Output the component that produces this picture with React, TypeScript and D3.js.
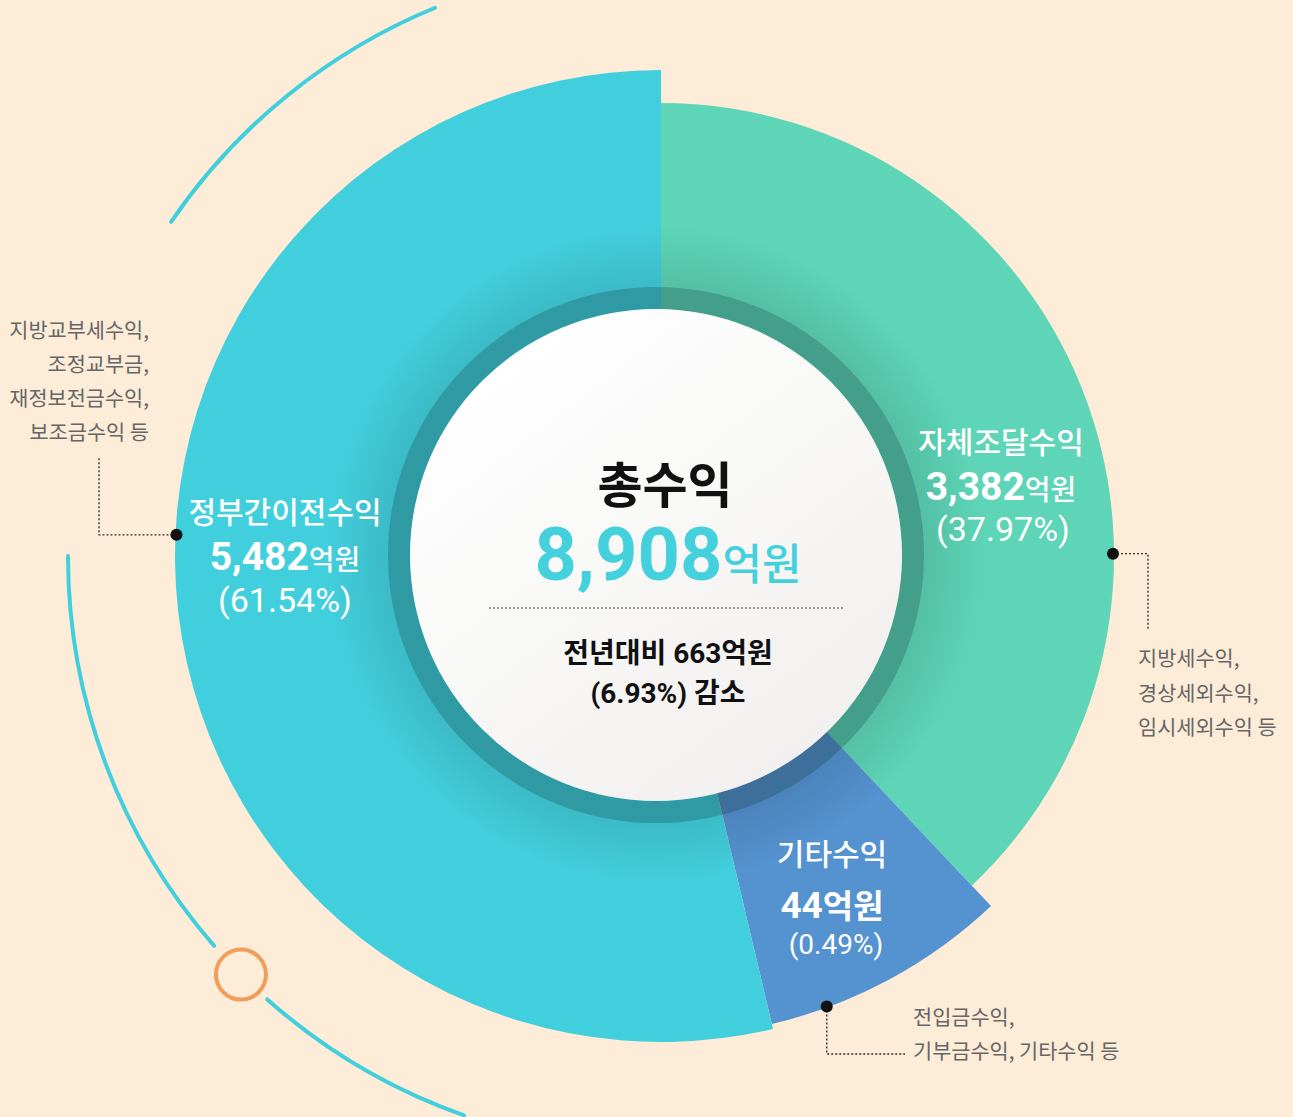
import React from 'react';
import * as d3 from 'd3';

// ---- data ----
const categories = ['자체조달수익', '기타수익', '정부간이전수익'];
const amounts = [3382, 44, 5482]; // 억원
const shares = [37.97, 0.49, 61.54]; // %
const notes = [
  ['지방세수익,', '경상세외수익,', '임시세외수익 등'],
  ['전입금수익,', '기부금수익, 기타수익 등'],
  ['지방교부세수익,', '조정교부금,', '재정보전금수익,', '보조금수익 등'],
];
const totalLabel = '총수익';
const totalAmount = 8908;
const unit = '억원';
const yoyLines = ['전년대비 663억원', '(6.93%) 감소'];

// ---- styling / layout ----
const W = 1293;
const H = 1117;
const BG = '#fcecd8';
const colors = ['#5dd5b6', '#5592d0', '#42cfdd'];
const outerRadii = [453, 481, 486];
const CX = 661;
const CY = 556;
const INNER_CX = 656;
const INNER_CY = 555;
const WHITE_R = 246;
const RING_R = 268;
const DECO_R = 593;
const MIN_ANGLE = (30 * Math.PI) / 180;
const KR = "'Noto Sans CJK KR', 'Noto Sans', sans-serif";
const NUM = "Roboto, 'Noto Sans CJK KR', sans-serif";
const deg = (d: number) => (d * Math.PI) / 180;

const fmt = d3.format(',');

function layoutSlices() {
  const pie = d3.pie<number>().sort(null).value((d) => d);
  const arcs = pie(amounts).map((a) => ({ ...a }));
  // give tiny slices a minimum visible angle, taken from the following slice
  for (let i = 0; i < arcs.length; i++) {
    if (arcs[i].endAngle - arcs[i].startAngle < MIN_ANGLE) {
      arcs[i].endAngle = arcs[i].startAngle + MIN_ANGLE;
      if (i + 1 < arcs.length) arcs[i + 1].startAngle = arcs[i].endAngle;
    }
  }
  return arcs;
}

function decoArc(a0: number, a1: number) {
  const p = d3.path();
  p.arc(CX, CY, DECO_R, deg(a0 - 90), deg(a1 - 90), false);
  return p.toString();
}

function polar(r: number, aDeg: number): [number, number] {
  return [CX + r * Math.sin(deg(aDeg)), CY - r * Math.cos(deg(aDeg))];
}

export default function App() {
  const slices = layoutSlices();
  const arcGen = d3.arc<any>();

  // anchor dots on each slice edge (angle in degrees clockwise from top)
  const dotAngles = [89.7, 159.8, 272.5];
  const dots = dotAngles.map((a, i) => polar(outerRadii[i] - 1, a));

  const labelPos: [number, number][] = [
    [1001, 453],
    [832, 865],
    [285, 523],
  ];

  const noteStyle = { fontFamily: KR, fontSize: 20.8, fill: '#666' } as const;

  const orange = polar(DECO_R, 225.1);

  return (
    <svg
      width={W}
      height={H}
      style={{ position: 'fixed', left: 0, top: 0, display: 'block' }}
    >
      <defs>
        <radialGradient
          id="shadow"
          gradientUnits="userSpaceOnUse"
          cx={INNER_CX}
          cy={INNER_CY}
          r={330}
        >
          <stop offset={RING_R / 330} stopColor="#000" stopOpacity={0.1} />
          <stop offset={1} stopColor="#000" stopOpacity={0} />
        </radialGradient>
        <linearGradient id="white" x1="0.2" y1="0.1" x2="0.85" y2="0.95">
          <stop offset="0" stopColor="#ffffff" />
          <stop offset="1" stopColor="#f0efed" />
        </linearGradient>
      </defs>
      <rect width={W} height={H} fill={BG} />

      {/* decorative arcs */}
      <g fill="none" stroke="#42cfdd" strokeWidth={4} strokeLinecap="round">
        <path d={decoArc(304.3, 337.6)} />
        <path d={decoArc(228.9, 270)} />
        <path d={decoArc(199.4, 221.6)} />
      </g>
      <circle cx={orange[0]} cy={orange[1]} r={25} fill="none" stroke="#f29e5a" strokeWidth={4} />

      {/* slices */}
      {slices.map((s, i) => (
        <path
          key={categories[i]}
          transform={`translate(${CX},${CY})`}
          d={
            arcGen({
              innerRadius: 200,
              outerRadius: outerRadii[i],
              startAngle: s.startAngle,
              endAngle: s.endAngle,
            }) as string
          }
          fill={colors[i]}
        />
      ))}

      {/* inner shading */}
      <circle cx={INNER_CX} cy={INNER_CY} r={330} fill="url(#shadow)" />
      <circle
        cx={INNER_CX}
        cy={INNER_CY}
        r={(WHITE_R + RING_R) / 2}
        fill="none"
        stroke="#0a2a2a"
        strokeOpacity={0.22}
        strokeWidth={RING_R - WHITE_R}
      />
      <circle cx={INNER_CX} cy={INNER_CY} r={WHITE_R} fill="url(#white)" />

      {/* center text */}
      <text x={665} y={503} textAnchor="middle" fontFamily={KR} fontSize={49} fontWeight={700} fill="#111">
        {totalLabel}
      </text>
      <text x={668} y={580} textAnchor="middle" fill="#45d0de">
        <tspan fontFamily={NUM} fontSize={74} fontWeight={700}>
          {fmt(totalAmount)}
        </tspan>
        <tspan fontFamily={KR} fontSize={43} fontWeight={500}>
          {unit}
        </tspan>
      </text>
      <line x1={489} x2={845} y1={608} y2={608} stroke="#444" strokeWidth={1} strokeDasharray="2,2" />
      {yoyLines.map((t, i) => (
        <text
          key={t}
          x={668}
          y={663 + i * 40}
          textAnchor="middle"
          fontFamily={NUM}
          fontSize={28}
          fontWeight={700}
          fill="#111"
        >
          {t}
        </text>
      ))}

      {/* slice labels */}
      <g fill="#fff" textAnchor="middle">
        {/* 자체조달수익 */}
        <text x={labelPos[0][0]} y={labelPos[0][1]} fontFamily={KR} fontSize={30} fontWeight={500}>
          {categories[0]}
        </text>
        <text x={labelPos[0][0]} y={labelPos[0][1] + 47}>
          <tspan fontFamily={NUM} fontSize={39} fontWeight={700}>{fmt(amounts[0])}</tspan>
          <tspan fontFamily={KR} fontSize={28} fontWeight={500}>{unit}</tspan>
        </text>
        <text x={labelPos[0][0] + 2} y={labelPos[0][1] + 88} fontFamily={NUM} fontSize={34}>
          {`(${shares[0].toFixed(2)}%)`}
        </text>

        {/* 정부간이전수익 */}
        <text x={labelPos[2][0]} y={labelPos[2][1]} fontFamily={KR} fontSize={30} fontWeight={500}>
          {categories[2]}
        </text>
        <text x={labelPos[2][0]} y={labelPos[2][1] + 47}>
          <tspan fontFamily={NUM} fontSize={39} fontWeight={700}>{fmt(amounts[2])}</tspan>
          <tspan fontFamily={KR} fontSize={28} fontWeight={500}>{unit}</tspan>
        </text>
        <text x={labelPos[2][0]} y={labelPos[2][1] + 89} fontFamily={NUM} fontSize={34}>
          {`(${shares[2].toFixed(2)}%)`}
        </text>

        {/* 기타수익 */}
        <text x={labelPos[1][0]} y={labelPos[1][1]} fontFamily={KR} fontSize={30} fontWeight={500}>
          {categories[1]}
        </text>
        <text x={labelPos[1][0]} y={labelPos[1][1] + 53}>
          <tspan fontFamily={NUM} fontSize={37} fontWeight={700}>{fmt(amounts[1])}</tspan>
          <tspan fontFamily={KR} fontSize={33} fontWeight={700}>{unit}</tspan>
        </text>
        <text x={labelPos[1][0] + 4} y={labelPos[1][1] + 89} fontFamily={NUM} fontSize={28}>
          {`(${shares[1].toFixed(2)}%)`}
        </text>
      </g>

      {/* leader lines */}
      <g fill="none" stroke="#333" strokeWidth={1.4} strokeDasharray="2,2">
        <polyline points={`${dots[0][0]},${dots[0][1]} 1148,${dots[0][1]} 1148,630`} />
        <polyline points={`${dots[1][0]},${dots[1][1]} ${dots[1][0]},1054 905,1054`} />
        <polyline points={`${dots[2][0]},${dots[2][1]} 99,${dots[2][1]} 99,458`} />
      </g>
      {dots.map((d, i) => (
        <circle key={i} cx={d[0]} cy={d[1]} r={6} fill="#111" />
      ))}

      {/* notes */}
      <g {...noteStyle}>
        {notes[0].map((t, i) => (
          <text key={t} x={1138} y={666 + i * 34.5}>
            {t}
          </text>
        ))}
        {notes[1].map((t, i) => (
          <text key={t} x={913} y={1025 + i * 34}>
            {t}
          </text>
        ))}
        {notes[2].map((t, i) => (
          <text key={t} x={149} y={338 + i * 34} textAnchor="end">
            {t}
          </text>
        ))}
      </g>
    </svg>
  );
}
